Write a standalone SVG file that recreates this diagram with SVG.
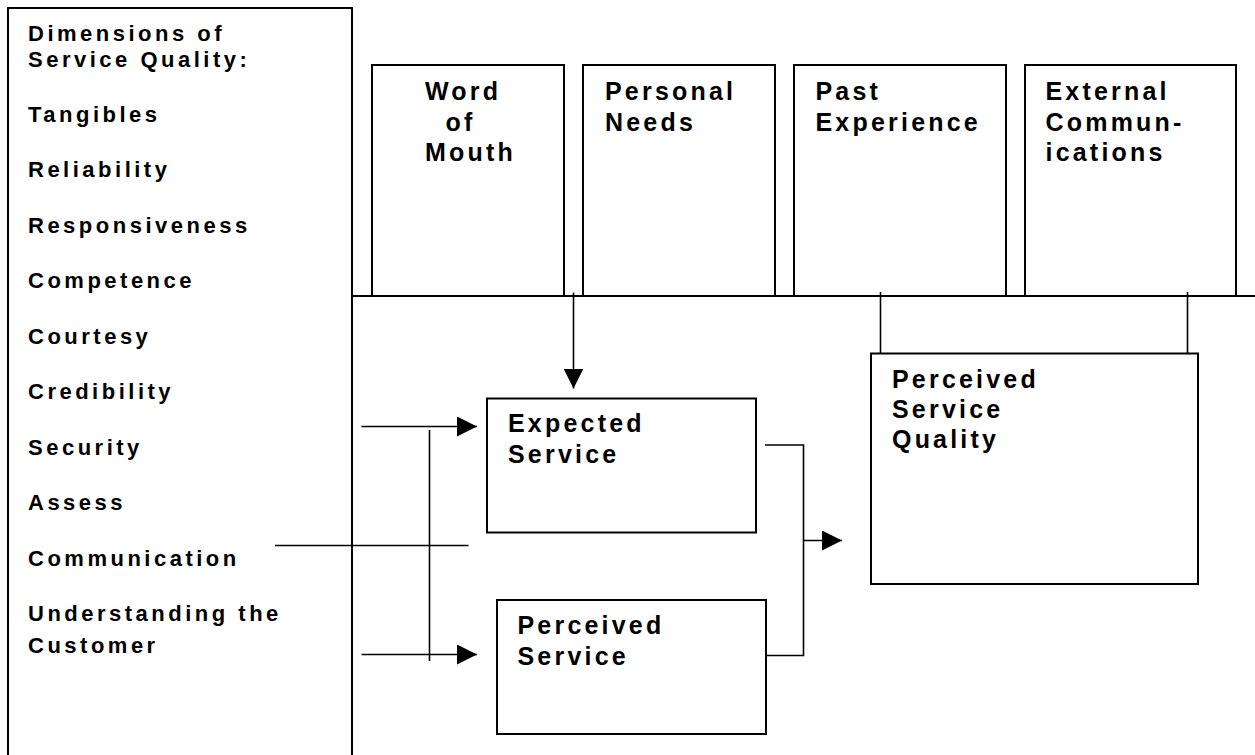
<svg xmlns="http://www.w3.org/2000/svg" width="1255" height="755" viewBox="0 0 1255 755">
<defs>
<style>
.box{fill:#fff;stroke:#000;stroke-width:2}
.ln{fill:none;stroke:#000;stroke-width:1.6}
.big{font-family:"Liberation Sans",Arial,sans-serif;font-weight:bold;font-size:25px;letter-spacing:3.2px;fill:#000}
.sm{font-family:"Liberation Sans",Arial,sans-serif;font-weight:bold;font-size:22px;letter-spacing:3.5px;fill:#000}
</style>
<marker id="ah" markerWidth="20" markerHeight="20" refX="20" refY="10" orient="auto" markerUnits="userSpaceOnUse">
<path d="M0,0 L20,10 L0,20 Z" fill="#000"/>
</marker>
</defs>
<rect width="1255" height="755" fill="#fff"/>

<g id="dimensions">
<path class="box" d="M8,760 V8 H352 V760"/>
<text class="sm" x="28" y="40.5">Dimensions of</text>
<text class="sm" x="28" y="66.5">Service Quality:</text>
<text class="sm" x="28" y="121.5">Tangibles</text>
<text class="sm" x="28" y="177">Reliability</text>
<text class="sm" x="28" y="232.5">Responsiveness</text>
<text class="sm" x="28" y="288">Competence</text>
<text class="sm" x="28" y="343.5">Courtesy</text>
<text class="sm" x="28" y="399">Credibility</text>
<text class="sm" x="28" y="454.5">Security</text>
<text class="sm" x="28" y="510">Assess</text>
<text class="sm" x="28" y="565.5">Communication</text>
<text class="sm" x="28" y="621">Understanding the</text>
<text class="sm" x="28" y="652.5">Customer</text>
</g>

<g id="word-of-mouth">
<rect class="box" x="372" y="65" width="192" height="231"/>
<text class="big" x="425" y="100">Word</text>
<text class="big" x="445.5" y="130.5">of</text>
<text class="big" x="425" y="161">Mouth</text>
</g>
<g id="personal-needs">
<rect class="box" x="583" y="65" width="192" height="231"/>
<text class="big" x="605" y="100">Personal</text>
<text class="big" x="605" y="131">Needs</text>
</g>
<g id="past-experience">
<rect class="box" x="794" y="65" width="212" height="231"/>
<text class="big" x="815.5" y="100">Past</text>
<text class="big" x="815.5" y="131">Experience</text>
</g>
<g id="external-communications">
<rect class="box" x="1025" y="65" width="211" height="231"/>
<text class="big" x="1045.5" y="100">External</text>
<text class="big" x="1045.5" y="131">Commun-</text>
<text class="big" x="1045.5" y="161">ications</text>
</g>

<g id="expected-service">
<rect class="box" x="487" y="398.5" width="269" height="134"/>
<text class="big" x="508" y="432">Expected</text>
<text class="big" x="508" y="463">Service</text>
</g>
<g id="perceived-service">
<rect class="box" x="497" y="600" width="269" height="134"/>
<text class="big" x="517.5" y="634">Perceived</text>
<text class="big" x="517.5" y="665">Service</text>
</g>
<g id="perceived-service-quality">
<rect class="box" x="871" y="353.5" width="327" height="230.5"/>
<text class="big" x="892" y="388">Perceived</text>
<text class="big" x="892" y="418">Service</text>
<text class="big" x="892" y="448">Quality</text>
</g>

<g id="connectors">
<line class="ln" x1="352" y1="296" x2="1255" y2="296" style="stroke-width:2"/>
<line class="ln" x1="573.5" y1="292.5" x2="573.5" y2="388.5" marker-end="url(#ah)"/>
<line class="ln" x1="880.5" y1="292" x2="880.5" y2="353"/>
<line class="ln" x1="1187.5" y1="292" x2="1187.5" y2="353"/>
<line class="ln" x1="361.5" y1="426.5" x2="477" y2="426.5" marker-end="url(#ah)"/>
<line class="ln" x1="361.5" y1="654.5" x2="477" y2="654.5" marker-end="url(#ah)"/>
<line class="ln" x1="429.5" y1="430" x2="429.5" y2="661"/>
<line class="ln" x1="275" y1="545.5" x2="468.5" y2="545.5"/>
<path class="ln" d="M765,445 H803.5 V655.5 H766"/>
<line class="ln" x1="803.5" y1="540.5" x2="842" y2="540.5" marker-end="url(#ah)"/>
</g>
</svg>
